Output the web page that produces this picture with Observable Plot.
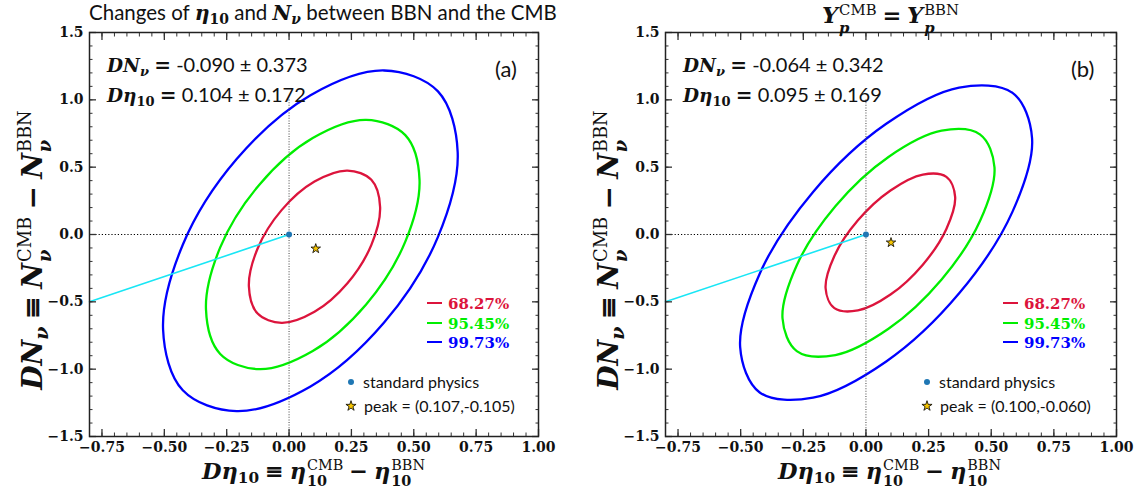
<!DOCTYPE html>
<html><head><meta charset="utf-8">
<script src="https://cdn.jsdelivr.net/npm/d3@7"></script>
<script src="https://cdn.jsdelivr.net/npm/@observablehq/plot@0.6"></script>
<style>
body{margin:0;background:#fff;}
#fig{position:relative;width:1137px;height:495px;overflow:hidden;background:#fff;font-family:Lato,"Open Sans",sans-serif;color:#111;}
#fig svg.pl{position:absolute;top:0;}
.ov{position:absolute;white-space:nowrap;line-height:1;}
.m{font-family:"DejaVu Serif",serif;font-weight:bold;font-style:italic;}
.r{font-family:"DejaVu Serif",serif;font-weight:bold;font-style:normal;}
.n{font-family:"DejaVu Serif",serif;font-weight:normal;font-style:normal;}
.op{font-family:"DejaVu Serif",serif;font-weight:bold;margin:0 0.26em;}
.sb1{font-size:0.68em;vertical-align:-0.3em;}
.ss{display:inline-block;position:relative;font-size:0.64em;margin-left:1px;}
.ss .sp{display:block;position:relative;top:-0.62em;line-height:1;}
.ss .sb{display:block;position:absolute;left:0;top:0.5em;line-height:1;}
.tt .ss{font-size:0.66em;}
.tt .ss .sp{top:-0.55em;}
.tt .ss .sb{top:0.66em;}
.leg{position:absolute;font-family:"DejaVu Serif",serif;font-weight:bold;font-size:15px;line-height:1;white-space:nowrap;}
.leg .ln{display:inline-block;width:15px;height:2px;background:currentColor;vertical-align:5px;margin-right:6px;}
.sym{position:absolute;font-size:16px;line-height:1;white-space:nowrap;font-family:Lato,sans-serif;}
</style></head>
<body><div id="fig"></div>
<script>
// ---------- data ----------
const levels = ["68.27%", "95.45%", "99.73%"];
const levelColors = ["#dc143c", "#00ee00", "#0000ff"];

// panel (a): contour points [Dη10, DNν]
const a68 = [[0.365,0.204],[0.330,0.406],[0.234,0.475],[0.102,0.393],[-0.030,0.181],[-0.126,-0.104],[-0.161,-0.385],[-0.126,-0.587],[-0.030,-0.656],[0.102,-0.574],[0.234,-0.362],[0.330,-0.077]];
const a95 = [[0.523,0.407],[0.466,0.738],[0.309,0.851],[0.095,0.716],[-0.119,0.370],[-0.276,-0.096],[-0.333,-0.556],[-0.276,-0.887],[-0.119,-1.000],[0.095,-0.865],[0.309,-0.519],[0.466,-0.053]];
const a99 = [[0.676,0.611],[0.597,1.063],[0.381,1.218],[0.086,1.034],[-0.210,0.560],[-0.426,-0.076],[-0.505,-0.705],[-0.426,-1.157],[-0.210,-1.312],[0.086,-1.128],[0.381,-0.654],[0.597,-0.018]];
// panel (b)
const b68 = [[0.356,0.280],[0.321,0.428],[0.227,0.445],[0.098,0.327],[-0.032,0.105],[-0.126,-0.160],[-0.161,-0.399],[-0.126,-0.547],[-0.032,-0.564],[0.098,-0.446],[0.227,-0.224],[0.321,0.041]];
const b95 = [[0.513,0.498],[0.456,0.742],[0.302,0.771],[0.090,0.576],[-0.122,0.210],[-0.276,-0.228],[-0.333,-0.622],[-0.276,-0.866],[-0.122,-0.895],[0.090,-0.700],[0.302,-0.334],[0.456,0.104]];
const b99 = [[0.663,0.715],[0.585,1.052],[0.372,1.091],[0.081,0.822],[-0.211,0.316],[-0.424,-0.291],[-0.502,-0.836],[-0.424,-1.173],[-0.211,-1.212],[0.081,-0.943],[0.372,-0.437],[0.585,0.170]];

const standardPhysics = [[0, 0]];
const peakA = [[0.107, -0.105]];
const peakB = [[0.100, -0.060]];
const cyanLine = [[0, 0], [-0.8, -0.5]];

const statsA = {dN: "-0.090 ± 0.373", dEta: "0.104 ± 0.172", peak: "(0.107,-0.105)", tag: "(a)"};
const statsB = {dN: "-0.064 ± 0.342", dEta: "0.095 ± 0.169", peak: "(0.100,-0.060)", tag: "(b)"};

const xMajor = [-0.75, -0.5, -0.25, 0, 0.25, 0.5, 0.75, 1.0];
const xMajorLabels = ["−0.75", "−0.50", "−0.25", "0.00", "0.25", "0.50", "0.75", "1.00"];
const yMajor = [-1.5, -1, -0.5, 0, 0.5, 1, 1.5];
const yMajorLabels = ["−1.5", "−1.0", "−0.5", "0.0", "0.5", "1.0", "1.5"];
const xMinor = d3.range(-16, 21).map(i => +(i * 0.05).toFixed(2));
const yMinor = d3.range(-15, 16).map(i => i / 10);

// ---------- plotting ----------
function axesMarks() {
  const tk = {label: null, stroke: "#333"};
  return [
    Plot.axisX({...tk, ticks: xMinor, anchor: "bottom", tickSize: -3.5, tickFormat: () => ""}),
    Plot.axisX({...tk, ticks: xMinor, anchor: "top", tickSize: -3.5, tickFormat: () => ""}),
    Plot.axisX({...tk, ticks: xMajor, anchor: "bottom", tickSize: -7, tickPadding: 13, strokeWidth: 1.3,
      tickFormat: d => xMajorLabels[xMajor.indexOf(d)]}),
    Plot.axisX({...tk, ticks: xMajor, anchor: "top", tickSize: -7, strokeWidth: 1.3, tickFormat: () => ""}),
    Plot.axisY({...tk, ticks: yMinor, anchor: "left", tickSize: -3.5, tickFormat: () => ""}),
    Plot.axisY({...tk, ticks: yMinor, anchor: "right", tickSize: -3.5, tickFormat: () => ""}),
    Plot.axisY({...tk, ticks: yMajor, anchor: "left", tickSize: -7, tickPadding: 13, strokeWidth: 1.3,
      tickFormat: d => yMajorLabels[yMajor.indexOf(d)]}),
    Plot.axisY({...tk, ticks: yMajor, anchor: "right", tickSize: -7, strokeWidth: 1.3, tickFormat: () => ""}),
  ];
}

function panel(contours, peak, opts) {
  return Plot.plot({
    width: opts.width, height: 495,
    marginLeft: opts.ml, marginRight: opts.mr, marginTop: 32, marginBottom: 59,
    x: {domain: [-0.8, 1.0]},
    y: {domain: [-1.5, 1.5]},
    style: {fontFamily: "DejaVu Serif", fontWeight: "bold", fontSize: "14px", color: "#111", background: "transparent", overflow: "visible"},
    marks: [
      ...contours.map((c, i) => Plot.line(c, {x: d => d[0], y: d => d[1], curve: "catmull-rom-closed",
        stroke: levelColors[i], strokeWidth: 2.3})),
      Plot.line(cyanLine, {x: d => d[0], y: d => d[1], stroke: "#19e6f5", strokeWidth: 1.6}),
      Plot.ruleY([0], {stroke: "#000", strokeWidth: 1.1, strokeDasharray: "1.2,2"}),
      Plot.ruleX([0], {y1: -1.5, y2: 1.0, stroke: "#555", strokeWidth: 1.1, strokeDasharray: "1,1.6"}),
      Plot.dot(standardPhysics, {x: d => d[0], y: d => d[1], r: 3, fill: "#1f77b4"}),
      Plot.dot(peak, {x: d => d[0], y: d => d[1], symbol: "star", r: 3, fill: "#f5c400", stroke: "#000", strokeWidth: 0.8}),
      ...axesMarks(),
      Plot.frame({stroke: "#222", strokeWidth: 1.5})
    ]
  });
}

const fig = document.getElementById("fig");
const pa = panel([a68, a95, a99], peakA, {width: 568, ml: 89, mr: 30});
const pb = panel([b68, b95, b99], peakB, {width: 569, ml: 97, mr: 21});
pa.classList.add("pl"); pb.classList.add("pl");
pa.style.left = "0px"; pb.style.left = "568px";
fig.appendChild(pa); fig.appendChild(pb);

// ---------- text overlays ----------
function add(html, css, cls = "ov") {
  const d = document.createElement("div");
  d.className = cls; d.innerHTML = html; Object.assign(d.style, css); fig.appendChild(d); return d;
}
const ss = (sup, sub, subCls) => `<span class="ss"><span class="sp n">${sup}</span><span class="sb ${subCls}">${sub}</span></span>`;
const op = s => `<span class="op">${s}</span>`;

// titles
add(`Changes of <span class="m">η</span><span class="sb1 r">10</span> and <span class="m">N</span><span class="sb1 m">ν</span> between BBN and the CMB`,
  {left: "89px", width: "449px", textAlign: "center", top: "2px", fontSize: "20.5px"});
add(`<span class="m">Y</span>${ss("CMB", "p", "m")}${op("=")}<span class="m">Y</span>${ss("BBN", "p", "m")}`,
  {left: "665px", width: "451px", textAlign: "center", top: "4px", fontSize: "22.5px"}, "ov tt");

function panelText(off, st) {
  const f = {fontSize: "20px"};
  add(`<span class="m" style="font-size:18.5px">DN</span><span class="sb1 m" style="font-size:13px">ν</span>${op("=")}${st.dN}`, {...f, left: (107 + off) + "px", top: "54px"});
  add(`<span class="m" style="font-size:18.5px">Dη</span><span class="sb1 r" style="font-size:13px">10</span>${op("=")}${st.dEta}`, {...f, left: (107 + off) + "px", top: "84px"});
  add(st.tag, {fontSize: "22px", left: (495 + off) + "px", top: "58px"});
  levels.forEach((l, i) => add(`<span class="ln"></span>${l}`, {left: (427 + off) + "px", top: (297 + Math.round(i * 19.7)) + "px", color: levelColors[i]}, "leg"));
  // symbol legend
  const star = d3.symbol(d3.symbolStar, 32)();
  add(`<svg width="10" height="10" style="position:absolute;left:-4px;top:3px"><circle cx="5" cy="5" r="3" fill="#1f77b4"/></svg><span style="margin-left:13px">standard physics</span>`,
    {left: (350 + off) + "px", top: "374px"}, "sym");
  add(`<svg width="14" height="14" style="position:absolute;left:-6px;top:1px"><path transform="translate(7,7)" d="${star}" fill="#f5c400" stroke="#000" stroke-width="0.8"/></svg><span style="margin-left:14px">peak = ${st.peak}</span>`,
    {left: (350 + off) + "px", top: "398px"}, "sym");
  // axis labels
  add(`<span class="m">Dη</span><span class="sb1 r">10</span>${op("≡")}<span class="m">η</span>${ss("CMB", "10", "r")}${op("−")}<span class="m">η</span>${ss("BBN", "10", "r")}`,
    {left: (313.5 + off) + "px", top: "473px", fontSize: "22.5px", transform: "translate(-50%,-50%)"});
  add(`<span class="m">DN</span><span class="sb1 m">ν</span>${op("≡")}<span class="m">N</span>${ss("CMB", "ν", "m")}${op("−")}<span class="m">N</span>${ss("BBN", "ν", "m")}`,
    {left: (34 + off) + "px", top: "250px", fontSize: "28px", transform: "translate(-50%,-50%) rotate(-90deg)"});
}
panelText(0, statsA);
panelText(576, statsB);
</script></body></html>
